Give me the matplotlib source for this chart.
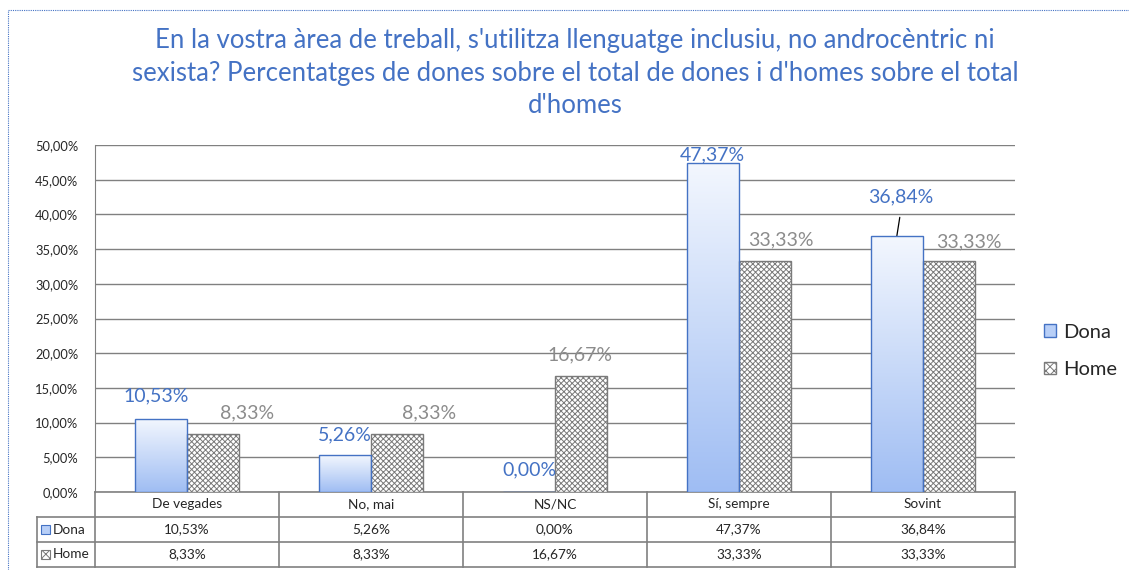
import numpy as np
import matplotlib
matplotlib.use("Agg")
import matplotlib.pyplot as plt
from matplotlib.patches import Rectangle, Patch
from matplotlib.lines import Line2D
from matplotlib.colors import LinearSegmentedColormap

# Data
categories = ["De vegades", "No, mai", "NS/NC", "Sí, sempre", "Sovint"]
dona = [10.53, 5.26, 0.00, 47.37, 36.84]
home = [8.33, 8.33, 16.67, 33.33, 33.33]
series_names = ["Dona", "Home"]
title = ("En la vostra àrea de treball, s'utilitza llenguatge inclusiu, no androcèntric ni\n"
         "sexista? Percentatges de dones sobre el total de dones i d'homes sobre el total\n"
         "d'homes")

# label offsets in pixels (dx, dy) from top centre of each bar
dona_off = [(-5, 23), (0, 21), (1, 22), (0, 8), (4, 39)]
home_off = [(34, 21), (32, 21), (-1, 21), (16, 21), (20, 19)]

plt.rcParams["font.family"] = ["Lato", "DejaVu Sans"]
plt.rcParams["hatch.linewidth"] = 0.7

BLUE = "#4472c4"
GREY_TXT = "#8c8c8c"
LINE = "#808080"
TXT = "#262626"
W, H = 1129, 570

def pct(v):
    return f"{v:.2f}%".replace(".", ",")

fig = plt.figure(figsize=(W / 100, H / 100), dpi=100)
fig.patch.set_facecolor("white")

# plot area in pixels: x 95..1015, y 145..492
x0, x1, ytop, ybot = 95, 1015, 145, 492
ax = fig.add_axes([x0 / W, (H - ybot) / H, (x1 - x0) / W, (ybot - ytop) / H])

n = len(categories)
x = np.arange(n)
bw = 0.285
cmap = LinearSegmentedColormap.from_list("g", ["#9fbdf3", "#f3f7fe"])
grad = np.linspace(0, 1, 256).reshape(-1, 1)

dona_bars = ax.bar(x - bw / 2, dona, bw, facecolor="none", edgecolor=BLUE, linewidth=1.0, zorder=4)
for b in dona_bars:
    bx, bwid, bh = b.get_x(), b.get_width(), b.get_height()
    if bh <= 0:
        continue
    im = ax.imshow(grad, extent=[bx, bx + bwid, 0, bh], origin="lower", aspect="auto",
                   cmap=cmap, zorder=3)
    im.set_clip_path(b)

home_bars = ax.bar(x + bw / 2, home, bw, facecolor="white", edgecolor="#7a7a7a",
                   hatch="xxxxxx", linewidth=1.0, zorder=3)

ax.set_xlim(-0.5, n - 0.5)
ax.set_ylim(0, 50)
ax.set_yticks(np.arange(0, 51, 5))
ax.set_yticklabels([pct(v) for v in np.arange(0, 51, 5)], fontsize=9.3, color=TXT)
ax.set_xticks([])
ax.grid(axis="y", color=LINE, linewidth=1.0, zorder=0)
ax.tick_params(axis="y", length=0, pad=12)
for s in ["top", "right", "bottom"]:
    ax.spines[s].set_visible(False)
ax.spines["left"].set_color(LINE)

# data labels
for i in range(n):
    dx, dy = dona_off[i]
    ax.annotate(pct(dona[i]), (x[i] - bw / 2, dona[i]), xytext=(dx, dy),
                textcoords="offset pixels", ha="center", va="center",
                fontsize=14, color=BLUE, zorder=6)
    dx, dy = home_off[i]
    ax.annotate(pct(home[i]), (x[i] + bw / 2, home[i]), xytext=(dx, dy),
                textcoords="offset pixels", ha="center", va="center",
                fontsize=14, color=GREY_TXT, zorder=6)

# leader line for Sovint / Dona
ax.annotate("", (x[4] - bw / 2, dona[4]), xytext=(3, 19), textcoords="offset pixels",
            arrowprops=dict(arrowstyle="-", color="black", lw=0.9, shrinkA=0, shrinkB=0))

# data table below the plot
def ax_y(py):
    return (ybot - py) / (ybot - ytop)

def ax_x(px):
    return (px - x0) / (x1 - x0) * n - 0.5

rows = [492, 517, 542, 567]
tkw = dict(color=LINE, linewidth=1.2, clip_on=False, transform=ax.get_xaxis_transform())
ax.plot([-0.5, n - 0.5], [ax_y(492)] * 2, **tkw)
for r in rows[1:]:
    ax.plot([ax_x(37), n - 0.5], [ax_y(r)] * 2, **tkw)
for k in range(n + 1):
    ax.plot([k - 0.5] * 2, [ax_y(492), ax_y(567)], **tkw)
ax.plot([ax_x(37)] * 2, [ax_y(517), ax_y(567)], **tkw)

tr = ax.get_xaxis_transform()
for i in range(n):
    ax.text(x[i], ax_y(504.5), categories[i], transform=tr, ha="center", va="center",
            fontsize=9.8, color=TXT)
    ax.text(x[i], ax_y(529.5), pct(dona[i]), transform=tr, ha="center", va="center",
            fontsize=9.8, color=TXT)
    ax.text(x[i], ax_y(554.5), pct(home[i]), transform=tr, ha="center", va="center",
            fontsize=9.8, color=TXT)

# legend keys inside the table
ax.add_patch(Rectangle((ax_x(41), ax_y(534)), ax_x(50) - ax_x(41), ax_y(525) - ax_y(534),
                       transform=tr, facecolor="#b8cff7", edgecolor=BLUE, lw=0.8, clip_on=False))
ax.add_patch(Rectangle((ax_x(41), ax_y(559)), ax_x(50) - ax_x(41), ax_y(550) - ax_y(559),
                       transform=tr, facecolor="white", edgecolor="#7a7a7a", hatch="xxxx",
                       lw=0.8, clip_on=False))
ax.text(ax_x(53), ax_y(529.5), "Dona", transform=tr, va="center", fontsize=9.8, color=TXT)
ax.text(ax_x(53), ax_y(554.5), "Home", transform=tr, va="center", fontsize=9.8, color=TXT)

# legend on the right
handles = [Patch(facecolor="#b8cff7", edgecolor=BLUE, label=series_names[0]),
           Patch(facecolor="white", edgecolor="#7a7a7a", hatch="xxxx", label=series_names[1])]
fig.legend(handles=handles, loc="center left", bbox_to_anchor=(1030 / W, 1 - 351 / H),
           frameon=False, fontsize=14.5, handlelength=0.6, handleheight=0.6,
           handletextpad=0.35, labelspacing=1.0, labelcolor=TXT, borderpad=0.2)

# title
fig.text(575 / W, 1 - 73 / H, title, ha="center", va="center", fontsize=18.5,
         color=BLUE, linespacing=1.38)

# dotted chart border
fig.add_artist(Line2D([8 / W, 1], [1 - 10 / H] * 2, color=BLUE, lw=0.8, ls=(0, (1, 1)),
                      transform=fig.transFigure))
fig.add_artist(Line2D([8 / W] * 2, [0, 1 - 10 / H], color=BLUE, lw=0.8, ls=(0, (1, 1)),
                      transform=fig.transFigure))

fig.savefig("out.png", dpi=100)
